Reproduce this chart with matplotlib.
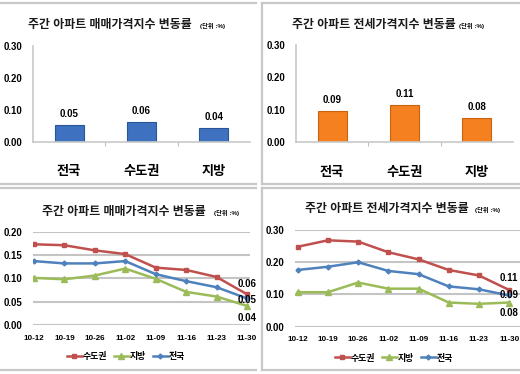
import matplotlib
matplotlib.use('Agg')
import matplotlib.pyplot as plt
from matplotlib.lines import Line2D

plt.rcParams['font.family'] = ['Liberation Sans', 'Noto Sans CJK KR', 'DejaVu Sans']
plt.rcParams['axes.unicode_minus'] = False

# 데이터
regions = ['전국', '수도권', '지방']
sale_bar = [0.053, 0.063, 0.043]
sale_bar_txt = ['0.05', '0.06', '0.04']
jeonse_bar = [0.095, 0.115, 0.075]
jeonse_bar_txt = ['0.09', '0.11', '0.08']

weeks = ['10-12', '10-19', '10-26', '11-02', '11-09', '11-16', '11-23', '11-30']
sale_metro = [0.173, 0.171, 0.160, 0.152, 0.123, 0.118, 0.103, 0.066]
sale_local = [0.101, 0.098, 0.106, 0.121, 0.099, 0.071, 0.061, 0.041]
sale_all = [0.137, 0.132, 0.132, 0.137, 0.109, 0.094, 0.081, 0.057]
jeonse_metro = [0.248, 0.268, 0.264, 0.231, 0.209, 0.176, 0.159, 0.114]
jeonse_local = [0.107, 0.107, 0.137, 0.118, 0.118, 0.075, 0.071, 0.075]
jeonse_all = [0.176, 0.186, 0.200, 0.173, 0.163, 0.125, 0.116, 0.097]
sale_end_txt = ['0.06', '0.05', '0.04']
jeonse_end_txt = ['0.11', '0.09', '0.08']

W, H = 520, 374
fig = plt.figure(figsize=(W / 100, H / 100), dpi=100)
fig.patch.set_facecolor('white')


def px_axes(x0, y0, x1, y1):
    # 픽셀 좌표(위에서부터)로 axes 생성
    return fig.add_axes([x0 / W, 1 - y1 / H, (x1 - x0) / W, (y1 - y0) / H])


def fline(x0, y0, x1, y1):
    fig.add_artist(Line2D([x0 / W, x1 / W], [1 - y0 / H, 1 - y1 / H],
                          color='#c8c8c8', lw=1.6, transform=fig.transFigure))


def title(x, y, text):
    t = fig.text(x / W, 1 - y / H, text, fontsize=8.6, fontweight='bold',
                 color='#1a1a1a', va='center', ha='left')
    return t


# 패널 테두리
for (a, b) in [(0, 256), (262, 520)]:
    fline(a, 3, b, 3)
    fline(a, 184, b, 184)
    fline(a, 188, b, 188)
    fline(a, 370, b, 370)
fline(262, 3, 262, 184)
fline(262, 188, 262, 370)

# 제목
title(28, 25, '주간 아파트 매매가격지수 변동률')
fig.text(200 / W, 1 - 26 / H, '(단위 :%)', fontsize=4.5, fontweight='bold', va='center')
title(292, 25, '주간 아파트 전세가격지수 변동률')
fig.text(459 / W, 1 - 26 / H, '(단위 :%)', fontsize=4.5, fontweight='bold', va='center')
title(42, 212, '주간 아파트 매매가격지수 변동률')
fig.text(214 / W, 1 - 213 / H, '(단위 :%)', fontsize=4.5, fontweight='bold', va='center')
title(305, 209, '주간 아파트 전세가격지수 변동률')
fig.text(475 / W, 1 - 210 / H, '(단위 :%)', fontsize=4.5, fontweight='bold', va='center')


def bar_panel(ax, vals, txts, color, edge):
    x = range(len(regions))
    ax.bar(x, vals, width=0.4, color=color, edgecolor=edge, linewidth=0.8)
    for i, (v, t) in enumerate(zip(vals, txts)):
        ax.annotate(t, (i, v), xytext=(0, 11), textcoords='offset pixels',
                    ha='center', va='center', fontsize=7, fontweight='bold')
    ax.set_xlim(-0.5, 2.5)
    ax.set_ylim(0, 0.30)
    ax.set_yticks([0, 0.1, 0.2, 0.3])
    ax.set_yticklabels(['0.00', '0.10', '0.20', '0.30'], fontsize=6.9, fontweight='bold')
    ax.set_xticks([0.5, 1.5])
    ax.set_xticklabels([])
    ax.tick_params(axis='x', length=3, color='#c0c0c0', direction='out')
    ax.tick_params(axis='y', length=0, pad=8)
    for i, r in enumerate(regions):
        ax.text(i, -0.095, r, ha='center', va='center', fontsize=9.5,
                fontweight='bold', transform=ax.transData)
    for s in ['top', 'right']:
        ax.spines[s].set_visible(False)
    for s in ['left', 'bottom']:
        ax.spines[s].set_color('#c8c8c8')
        ax.spines[s].set_linewidth(1.2)


ax1 = px_axes(33, 46, 250, 142)
bar_panel(ax1, sale_bar, sale_bar_txt, '#3e72c0', '#2a5598')
ax2 = px_axes(296, 45, 513, 142)
bar_panel(ax2, jeonse_bar, jeonse_bar_txt, '#f4801f', '#c8640f')


def line_panel(ax, metro, local, total, ymax, ystep, yfmt, end_txt, offs, xlim, leg_pos):
    x = range(len(weeks))
    ax.plot(x, metro, color='#c0504d', lw=1.8, marker='s', ms=3.5, label='수도권')
    ax.plot(x, local, color='#9bbb59', lw=1.8, marker='^', ms=3.8, label='지방')
    ax.plot(x, total, color='#4f81bd', lw=1.8, marker='D', ms=2.5, label='전국')
    ax.set_xlim(*xlim)
    ax.set_ylim(0, ymax)
    ticks = [i * ystep for i in range(int(round(ymax / ystep)) + 1)]
    ax.set_yticks(ticks)
    ax.set_yticklabels([yfmt % t for t in ticks], fontsize=6.9, fontweight='bold')
    ax.grid(axis='y', color='#c4c4c4', lw=1.5)
    ax.set_axisbelow(True)
    ax.set_xticks(list(x))
    ax.set_xticklabels(weeks, fontsize=5.8, fontweight='bold')
    ax.tick_params(axis='both', length=0)
    ax.tick_params(axis='y', pad=8)
    ax.tick_params(axis='x', pad=7)
    for s in ax.spines.values():
        s.set_visible(False)
    last = len(weeks) - 1
    for t, v, o in zip(end_txt, [metro[-1], total[-1], local[-1]], offs):
        ax.annotate(t, (last, v), xytext=(0, o), textcoords='offset pixels',
                    ha='center', va='center', fontsize=7, fontweight='bold')
    leg = ax.legend(loc='center', bbox_to_anchor=leg_pos, bbox_transform=fig.transFigure,
                    ncol=3, frameon=False, fontsize=6.4, handlelength=1.7,
                    handletextpad=0.15, columnspacing=0.7, borderpad=0)
    for t in leg.get_texts():
        t.set_fontweight('bold')


ax3 = px_axes(33, 231.7, 250, 325)
line_panel(ax3, sale_metro, sale_local, sale_all, 0.20, 0.05, '%.2f',
           sale_end_txt, [10, -2, -12], (-0.03, 7.1), (126 / W, 1 - 357 / H))
ax4 = px_axes(295, 230, 520, 326.7)
line_panel(ax4, jeonse_metro, jeonse_local, jeonse_all, 0.30, 0.10, '%.2f',
           jeonse_end_txt, [12, 0, -10], (-0.09, 7.36), (394 / W, 1 - 358 / H))

fig.savefig('out.png', dpi=100)
